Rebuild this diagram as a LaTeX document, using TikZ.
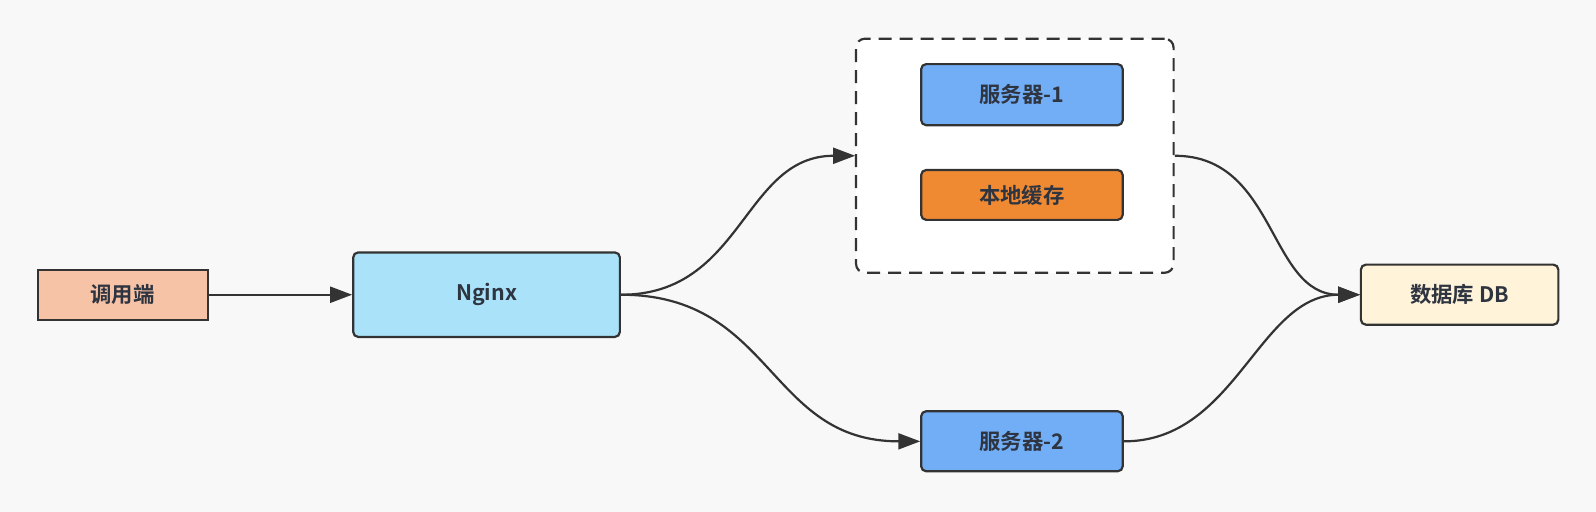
\documentclass[tikz,border=0pt]{standalone}
\usepackage{fontspec}
\setmainfont{Noto Sans CJK SC}[BoldFont={* Bold}]
\usetikzlibrary{arrows.meta}
\definecolor{bgc}{HTML}{F8F8F8}
\definecolor{linec}{HTML}{333333}
\definecolor{callc}{HTML}{F7C3A6}
\definecolor{nginxc}{HTML}{A9E2F9}
\definecolor{srvc}{HTML}{72AEF5}
\definecolor{cachec}{HTML}{F08A32}
\definecolor{dbc}{HTML}{FFF4D9}
\definecolor{txtc}{HTML}{2E3440}
\tikzset{
  box/.style={draw=linec, line width=2.2pt, rounded corners=5pt, inner sep=0pt, text=txtc, font=\fontsize{21}{24}\selectfont\bfseries},
  conn/.style={draw=linec, line width=2.2pt, -{Triangle[length=22pt,width=16pt]}},
}
\begin{document}
\begin{tikzpicture}[x=1pt,y=-1pt,scale=1.0179,every node/.style={transform shape}]
\useasboundingbox[fill=bgc] (0,0) rectangle (1568,503);
\node[box, rounded corners=0pt, fill=callc, minimum width=167pt, minimum height=49pt] (call) at (120.5,289.5) {调用端};
\node[box, fill=nginxc, minimum width=262pt, minimum height=83pt] (nginx) at (478,289.5) {Nginx};
\node[draw=linec, line width=2.2pt, dash pattern=on 13pt off 8pt, rounded corners=9pt, fill=white, minimum width=312pt, minimum height=230pt] (grp) at (997,153) {};
\node[box, fill=srvc, minimum width=198pt, minimum height=60pt] (s1) at (1004,93) {服务器-1};
\node[box, fill=cachec, minimum width=198pt, minimum height=49pt] (cache) at (1004,191.5) {本地缓存};
\node[box, fill=srvc, minimum width=198pt, minimum height=59pt] (s2) at (1004,433.5) {服务器-2};
\node[box, fill=dbc, minimum width=194pt, minimum height=59pt] (db) at (1434,289.5) {数据库 DB};
\draw[conn] (call.east) -- (nginx.west);
\draw[conn] (nginx.east) .. controls +(120,0) and +(-110,0) .. (grp.west);
\draw[conn] (nginx.east) .. controls +(150,0) and +(-150,0) .. (s2.west);
\draw[conn] (grp.east) .. controls +(100,0) and +(-90,0) .. (db.west);
\draw[conn] (s2.east) .. controls +(110,0) and +(-100,0) .. (db.west);
\end{tikzpicture}
\end{document}
